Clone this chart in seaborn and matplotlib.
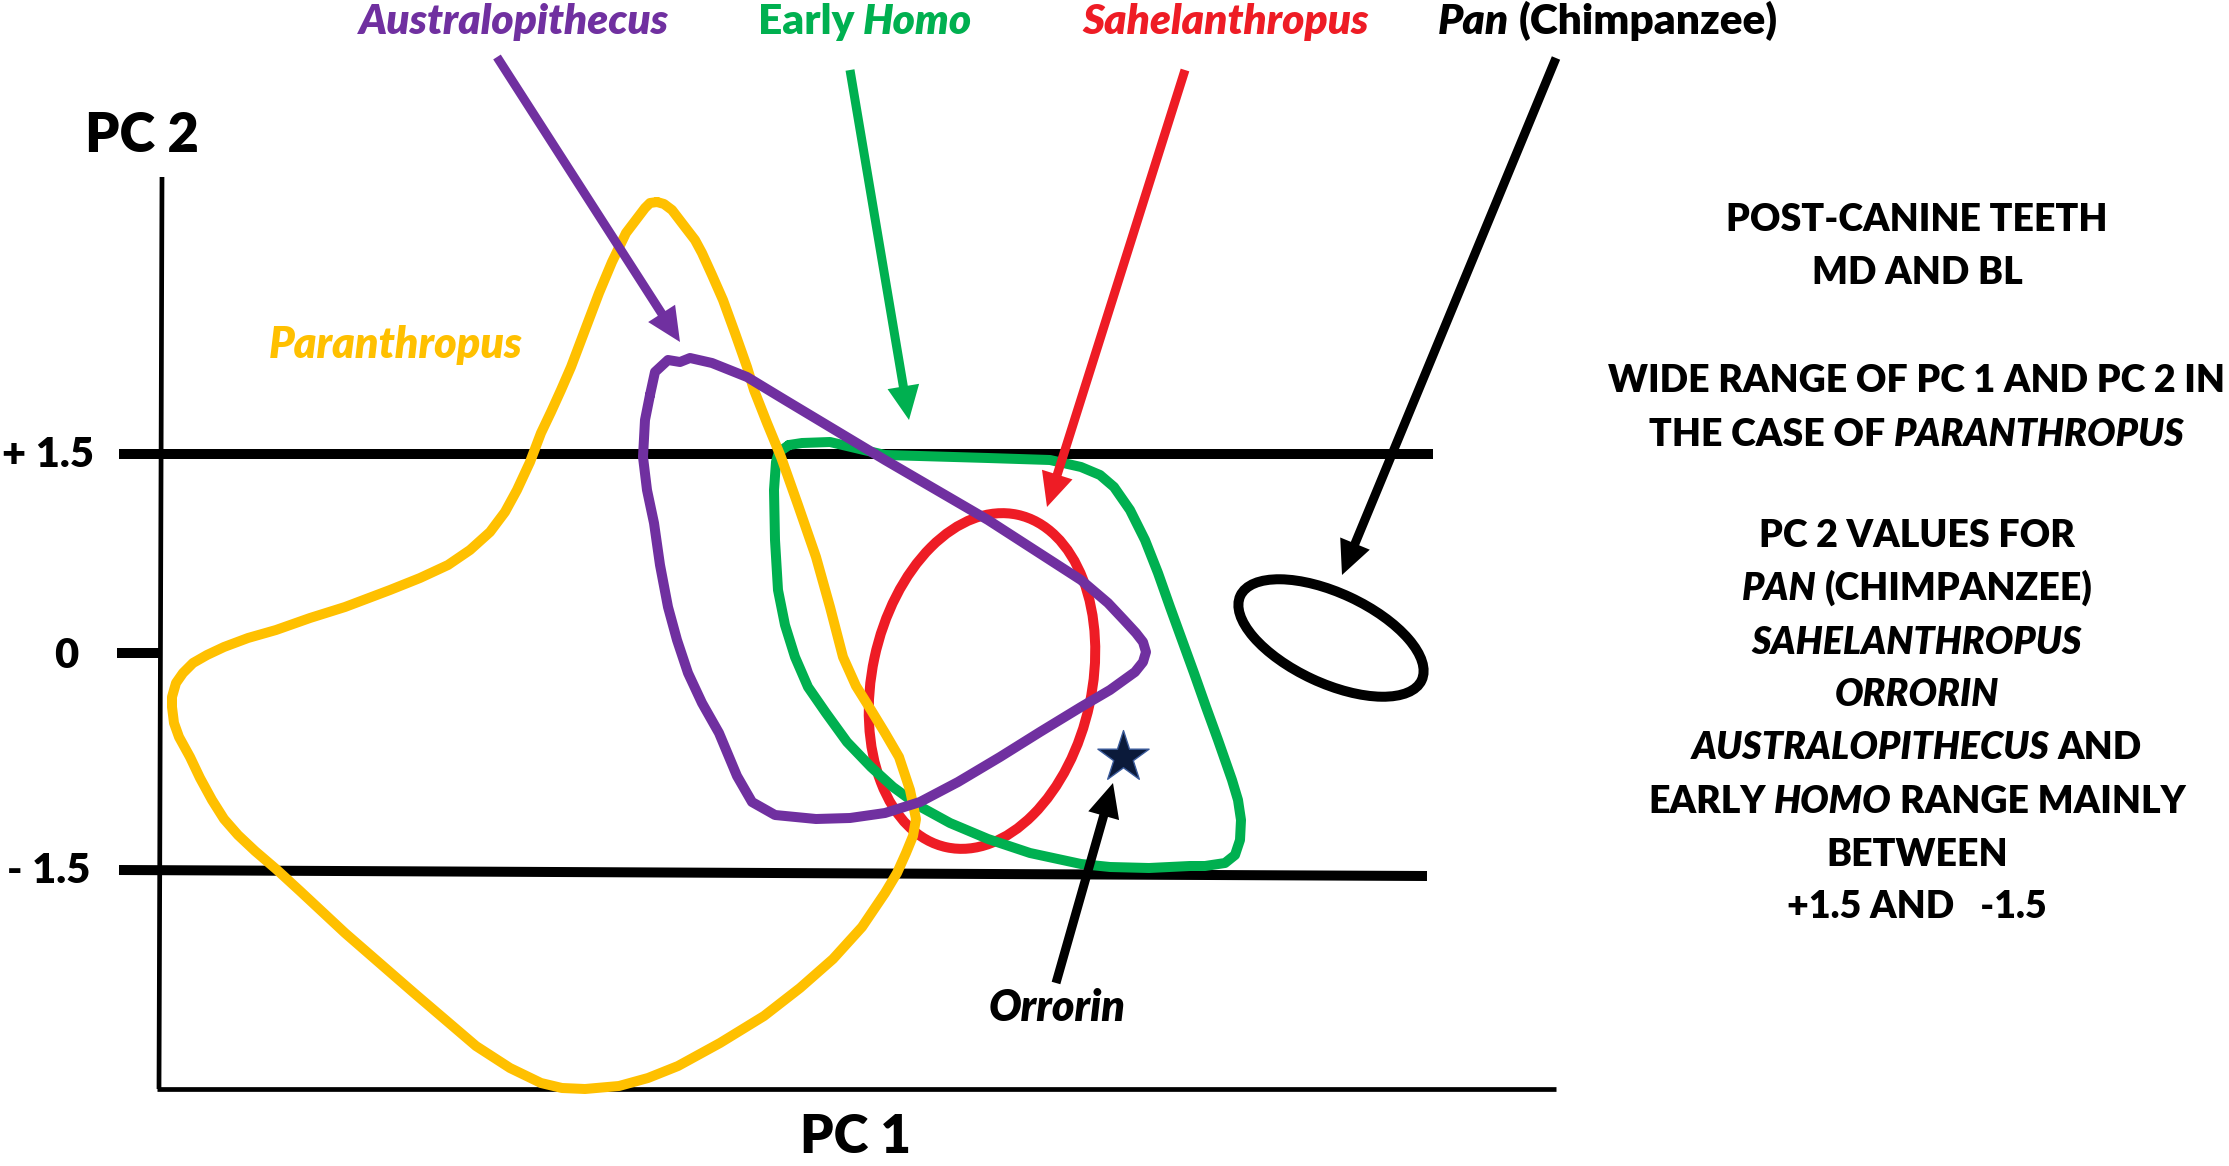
import numpy as np
import pandas as pd
import matplotlib
matplotlib.use("Agg")
import matplotlib.pyplot as plt
from matplotlib.patches import Ellipse
import seaborn as sns

# traced outlines, in picture pixels (y grows downward)
para_x = [657, 664, 672, 685, 695, 702, 712, 723, 735, 747, 754, 767, 781, 798, 816, 830, 843, 856, 871, 885,
          899, 910, 916, 913, 906, 897, 885, 862, 833, 800, 764, 720, 678, 648, 619, 585, 562, 541, 510, 476,
          414, 345, 300, 276, 255, 238, 224, 212, 200, 190, 179, 174, 172, 172, 176, 183, 193, 207, 224, 248,
          276, 310, 345, 390, 420, 448, 470, 490, 505, 517, 530, 541, 551, 561, 571, 585, 599, 612, 626, 645,
          650, 657]
para_y = [202, 204, 210, 227, 240, 253, 275, 300, 333, 367, 390, 423, 457, 505, 557, 607, 657, 686, 710, 733,
          757, 790, 819, 836, 853, 873, 893, 927, 959, 988, 1016, 1043, 1066, 1078, 1086, 1089, 1088, 1083, 1068, 1046,
          993, 933, 891, 869, 851, 835, 819, 800, 778, 757, 737, 723, 707, 697, 683, 673, 663, 655, 647, 638,
          630, 618, 607, 590, 578, 565, 550, 532, 512, 490, 462, 433, 412, 390, 367, 330, 293, 262, 233, 208,
          203, 202]

austr_x = [650, 655, 668, 680, 690, 712, 747, 785, 885, 988, 1081, 1108, 1124, 1136, 1143, 1146, 1143, 1135,
           1110, 1081, 1040, 1000, 958, 920, 885, 850, 816, 775, 752, 737, 719, 702, 688, 677, 668, 660, 654,
           647, 643, 645, 650]
austr_y = [395, 372, 360, 362, 358, 363, 377, 400, 460, 520, 580, 603, 620, 633, 642, 652, 662, 672,
           690, 707, 732, 757, 782, 802, 813, 818, 819, 815, 802, 776, 733, 703, 673, 640, 607, 565, 523,
           490, 457, 420, 395]

homo_x = [789, 802, 830, 885, 988, 1050, 1081, 1100, 1114, 1130, 1145, 1158, 1170, 1182, 1194, 1206, 1218, 1232,
          1238, 1241, 1240, 1235, 1225, 1205, 1190, 1149, 1110, 1081, 1030, 988, 950, 919, 893, 871, 847, 826,
          808, 795, 785, 778, 775, 774, 776, 779, 789]
homo_y = [445, 443, 442, 455, 458, 460, 467, 475, 487, 510, 540, 573, 607, 640, 673, 707, 740, 780,
          800, 820, 840, 855, 863, 866, 866, 868, 867, 864, 853, 839, 823, 806, 787, 767, 742, 713,
          687, 657, 625, 590, 540, 490, 462, 452, 445]

# ellipses: centre x, centre y, width, height, angle
sahel_ellipse = (982, 681, 220, 340, 12)
pan_ellipse = (1331, 638, 200, 90, 25)

orrorin_x, orrorin_y = 1123, 757

# reference lines: x0, y0, x1, y1, width
guide_lines = [
    (119, 454, 1433, 454, 7.2),   # +1.5
    (119, 870, 1427, 876, 7.2),   # -1.5
    (117, 653, 160, 653, 7.2),    # 0 tick
    (162, 177, 159, 1089, 3.4),   # PC 2 axis
    (157, 1089, 1556, 1089, 3.4), # PC 1 axis
]
tick_labels = ["+ 1.5", "0", "- 1.5"]
tick_label_x = [48, 66, 49]
tick_label_y = [467, 668, 883]

# arrows: start x, start y, tip x, tip y, colour
arrows = [
    (497, 57, 680, 342, "#7030A0"),
    (850, 70, 909, 420, "#00B050"),
    (1185, 70, 1047, 507, "#EE1C25"),
    (1556, 58, 1342, 575, "black"),
    (1056, 983, 1113, 783, "black"),
]

top_labels = [
    ([("Australopithecus", True)], 514, "#7030A0"),
    ([("Early", False), ("Homo", True)], 865, "#00B050"),
    ([("Sahelanthropus", True)], 1226, "#EE1C25"),
    ([("Pan", True), ("(Chimpanzee)", False)], 1608, "black"),
]

note_lines = [
    [("POST-CANINE TEETH", False)],
    [("MD AND BL", False)],
    [("WIDE RANGE OF PC 1 AND PC 2 IN", False)],
    [("THE CASE OF", False), ("PARANTHROPUS", True)],
    [("PC 2 VALUES FOR", False)],
    [("PAN", True), ("(CHIMPANZEE)", False)],
    [("SAHELANTHROPUS", True)],
    [("ORRORIN", True)],
    [("AUSTRALOPITHECUS", True), ("AND", False)],
    [("EARLY", False), ("HOMO", True), ("RANGE MAINLY", False)],
    [("BETWEEN", False)],
    [("+1.5 AND   -1.5", False)],
]
note_y = [217, 270, 378, 432, 533, 586, 640, 692, 745, 799, 852, 904]

sns.set_theme(style="white")
FONT = ["Lato", "DejaVu Sans"]
plt.rcParams["font.family"] = FONT
WEIGHT = "heavy"

fig = plt.figure(figsize=(22.29, 11.66), dpi=100)
ax = fig.add_axes([0, 0, 1, 1])

for x0, y0, x1, y1, w in guide_lines:
    ax.plot([x0, x1], [y0, y1], color="black", lw=w, solid_capstyle="butt", zorder=1)

outlines = pd.concat([
    pd.DataFrame({"taxon": "Early Homo", "x": homo_x, "y": homo_y}),
    pd.DataFrame({"taxon": "Paranthropus", "x": para_x, "y": para_y}),
    pd.DataFrame({"taxon": "Australopithecus", "x": austr_x, "y": austr_y}),
])
sns.lineplot(data=outlines, x="x", y="y", hue="taxon", units="taxon", estimator=None, sort=False,
             palette={"Early Homo": "#00B050", "Paranthropus": "#FFC000", "Australopithecus": "#7030A0"},
             hue_order=["Early Homo", "Paranthropus", "Australopithecus"],
             linewidth=7.2, legend=False, solid_joinstyle="round", ax=ax, zorder=3)

for (cx, cy, w, h, ang), col, z in [(sahel_ellipse, "#EE1C25", 2.5), (pan_ellipse, "black", 3)]:
    ax.add_patch(Ellipse((cx, cy), w, h, angle=ang, fill=False, edgecolor=col, lw=7.2, zorder=z))

for x0, y0, x1, y1, col in arrows:
    ax.arrow(x0, y0, x1 - x0, y1 - y0, width=9, head_width=32, head_length=34,
             length_includes_head=True, color=col, lw=0, zorder=4)

sns.scatterplot(x=[orrorin_x], y=[orrorin_y], marker="*", s=1500, color="#0B1A3A",
                edgecolor="#3A5A9A", linewidth=1, ax=ax, zorder=5)

renderer = fig.canvas.get_renderer()


def rich_text(xc, yb, parts, size, color):
    pieces = []
    for s, it in parts:
        pieces.append(ax.text(0, yb, s, fontsize=size, fontweight=WEIGHT,
                              fontstyle="italic" if it else "normal", color=color,
                              ha="left", va="baseline", family=FONT, zorder=6))
    widths = [t.get_window_extent(renderer).width for t in pieces]
    gap = size * 100 / 72 * 0.22
    x = xc - (sum(widths) + gap * (len(pieces) - 1)) / 2
    for t, w in zip(pieces, widths):
        t.set_x(x)
        x += w + gap


for parts, xc, col in top_labels:
    rich_text(xc, 34, parts, 30.5, col)

for parts, yc in zip(note_lines, note_y):
    rich_text(1917, yc + 14, parts, 27, "black")

rich_text(396, 358, [("Paranthropus", True)], 31, "#FFC000")
rich_text(1057, 1021, [("Orrorin", True)], 31, "black")
rich_text(142, 152, [("PC 2", False)], 39, "black")
rich_text(855, 1153, [("PC 1", False)], 38, "black")
for lab, x, y in zip(tick_labels, tick_label_x, tick_label_y):
    rich_text(x, y, [(lab, False)], 30, "black")

ax.set_xlim(0, 2229)
ax.set_ylim(1166, 0)
ax.set_axis_off()
fig.savefig("out.png", dpi=100, facecolor="white")
